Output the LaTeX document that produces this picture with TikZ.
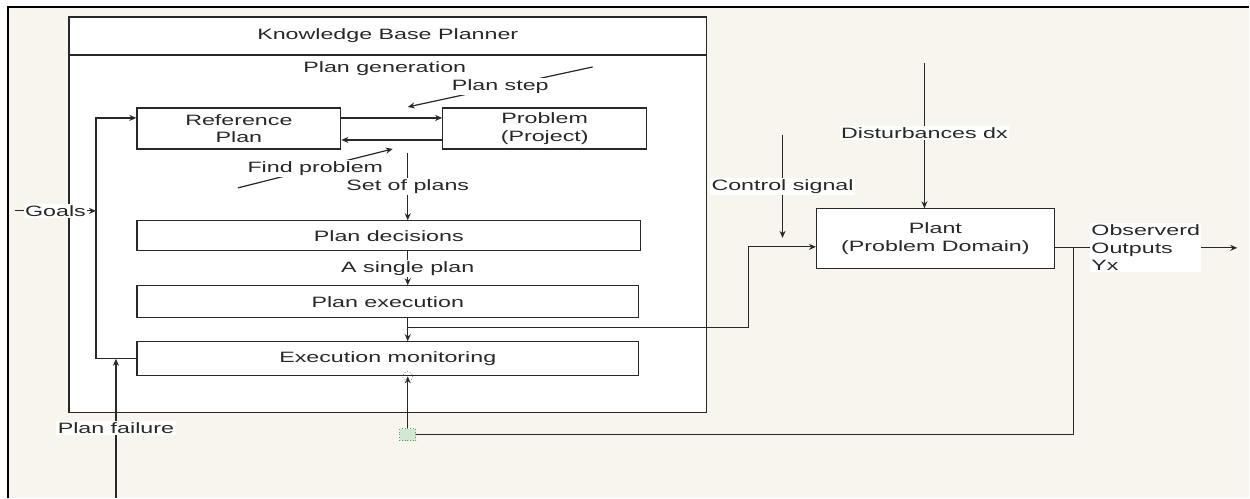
\documentclass[tikz,border=0pt]{standalone}
\usepackage{fontspec}
\setmainfont{Liberation Sans}[FakeStretch=1.55]
\usetikzlibrary{arrows.meta,calc}
\definecolor{paper}{RGB}{248,245,239}
\definecolor{ink}{RGB}{40,40,40}
\definecolor{selgreen}{RGB}{80,160,80}
\begin{document}
\begin{tikzpicture}[x=1pt,y=-1pt,line width=1.2pt,color=ink,font=\fontsize{15}{17.5}\selectfont,
  box/.style={draw,fill=white,inner sep=0pt,align=center},
  lbl/.style={fill=white,inner sep=1.5pt,align=center},
  arr/.style={-{Stealth[length=7pt,width=6pt]}}]
\fill[white] (0,0) rectangle (1250,498);
\fill[paper] (8,7) rectangle (1250,498);
\draw[black,line width=1.5pt] (8,498) -- (8,7) -- (1250,7);
\useasboundingbox (0,0) rectangle (1250,498);

\node[box,minimum width=638pt,minimum height=396pt] (kbp) at (388,215) {};
\draw (kbp.west |- 0,55) -- (kbp.east |- 0,55);
\node (title) at (388,36) {Knowledge Base Planner};
\node (gen) at (385,69) {Plan generation};

\node[box,minimum width=204pt,minimum height=41pt] (refplan) at (239,128.5) {Reference\\Plan};
\node[box,minimum width=204pt,minimum height=41pt] (problem) at (545,128.5) {Problem\\(Project)};
\node[box,minimum width=504pt,minimum height=30pt] (decide) at (389,236) {Plan decisions};
\node[box,minimum width=502pt,minimum height=32pt] (execute) at (388,302) {Plan execution};
\node[box,minimum width=502pt,minimum height=34pt] (monitor) at (388,359) {Execution monitoring};
\node[box,minimum width=238pt,minimum height=60pt] (plant) at (936,239) {Plant\\(Problem Domain)};

\coordinate (setsrc) at (408,153);
\coordinate (stepsrc) at (593,67);
\coordinate (stepend) at (408,107);
\coordinate (findsrc) at (238,188);
\coordinate (findend) at (393,149);
\coordinate (goalsrc) at (15,211);
\coordinate (goalend) at (96,211);
\coordinate (failsrc) at (116,498);
\coordinate (branch) at (408,328);
\coordinate (ctrlsrc) at (783,135);
\coordinate (ctrlend) at (783,238);
\coordinate (distsrc) at (925,63);
\coordinate (obsjoin) at (1074,248);
\coordinate (outend) at (1238,248);
\coordinate (sensor) at (408,435);

\draw[arr] (refplan.east |- 0,118) -- (problem.west |- 0,118);
\draw[arr] (problem.west |- 0,140) -- (refplan.east |- 0,140);
\draw[arr] (stepsrc) -- node[lbl]{Plan step} (stepend);
\draw[arr] (findsrc) -- node[lbl]{Find problem} (findend);
\draw[arr] (setsrc) -- node[lbl]{Set of plans} (decide.north -| setsrc);
\draw[arr] (decide.south -| setsrc) -- node[lbl]{A single plan} (execute.north -| setsrc);
\draw[arr] (execute.south -| setsrc) -- (monitor.north -| setsrc);
\draw[arr] (branch) -- (749,328) -- (749,247) -- (plant.west |- 0,247);
\draw[arr] (monitor.west) -| (96,118) -- (refplan.west |- 0,118);
\draw[arr] (goalsrc) -- node[lbl]{Goals} (goalend);
\draw[arr] (failsrc) -- node[lbl]{Plan failure} (failsrc |- monitor.west);
\draw[arr] (ctrlsrc) -- node[lbl]{Control signal} (ctrlend);
\draw[arr] (distsrc) -- node[lbl,pos=0.48]{Disturbances dx} (distsrc |- plant.north);
\draw[arr] (plant.east |- obsjoin) -- (outend);
\node[lbl,align=left,anchor=west] (outlbl) at (1090,248) {Observerd\\Outputs\\Yx};
\draw[arr] (obsjoin) -- (obsjoin |- sensor) -- (sensor) -- (monitor.south -| sensor);

\draw[gray,dotted,line width=0.8pt] (monitor.south -| sensor) circle (5);
\draw[selgreen,dotted,fill=selgreen!25,line width=0.8pt] ($(sensor)+(-8,-6)$) rectangle ($(sensor)+(8,6)$);
\end{tikzpicture}
\end{document}
